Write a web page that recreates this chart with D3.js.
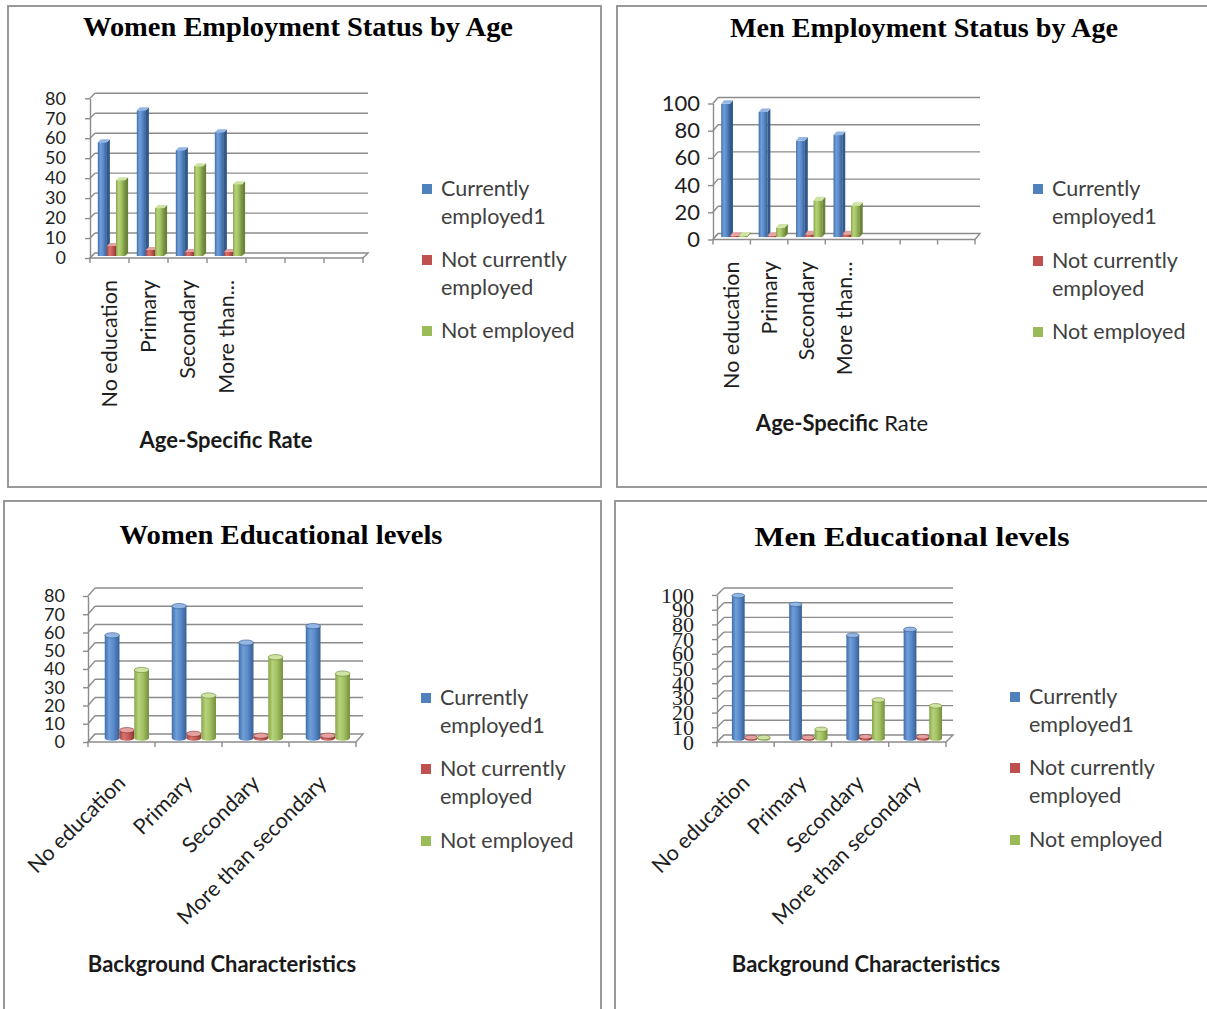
<!DOCTYPE html>
<html><head><meta charset="utf-8">
<script src="https://cdn.jsdelivr.net/npm/d3@7"></script>
<style>body{margin:0;background:#fff}svg{display:block}</style>
</head><body>
<svg id="c" width="1207" height="1009"></svg>
<script>
// ---------- DATA ----------
const ageCategoryLabels = ["No education", "Primary", "Secondary", "More than...", "", "", ""];
const educationCategories = ["No education", "Primary", "Secondary", "More than secondary"];
const seriesNames = ["Currently employed1", "Not currently employed", "Not employed"];
const legendLines = [["Currently", "employed1"], ["Not currently", "employed"], ["Not employed"]];

const womenCurrentlyEmployed = [57, 73, 53, 62];
const womenNotCurrentlyEmployed = [5, 3, 2, 2];
const womenNotEmployed = [38, 24, 45, 36];

const menCurrentlyEmployed = [98, 92, 71, 75];
const menNotCurrentlyEmployed = [1, 1, 2, 2];
const menNotEmployed = [1, 7, 27, 23];

const womenTicks = [0, 10, 20, 30, 40, 50, 60, 70, 80];
const menAgeTicks = [0, 20, 40, 60, 80, 100];
const menEduTicks = [0, 10, 20, 30, 40, 50, 60, 70, 80, 90, 100];

const chartTitles = ["Women Employment Status by Age", "Men Employment Status by Age",
                     "Women Educational levels", "Men Educational levels"];
const ageAxisTitle = "Age-Specific Rate";
const eduAxisTitle = "Background Characteristics";

// ---------- STYLE ----------
const colors = ["#4F81BD", "#C0504D", "#9BBB59"];
const gradStops = [
  ["#3f6ea8", "#6f9ed9", "#5b8acb", "#365f93"],
  ["#a8423f", "#d77471", "#c65b58", "#8f3734"],
  ["#88a74a", "#b6d27a", "#a3c163", "#748f3c"]
];
const topFace = ["#93b6e4", "#e4a19f", "#cfe3a2"];
const sideFace = ["#33598a", "#85322f", "#6a8437"];
const gridColor = "#8c8c8c";
const sansFont = "Lato, 'Open Sans', sans-serif";
const serifFont = "'Liberation Serif', 'Times New Roman', serif";

const svg = d3.select("#c");
const defs = svg.append("defs");
colors.forEach((c, i) => {
  const lg = defs.append("linearGradient").attr("id", "g" + i)
    .attr("x1", "0").attr("x2", "1").attr("y1", "0").attr("y2", "0");
  [0, 0.3, 0.6, 1].forEach((o, k) => lg.append("stop").attr("offset", o).attr("stop-color", gradStops[i][k]));
});

const charts = [
  { panel: [8, 6, 593, 481], title: chartTitles[0], titleX: 298, titleY: 36, titleW: 430,
    cats: ageCategoryLabels, series: [womenCurrentlyEmployed, womenNotCurrentlyEmployed, womenNotEmployed],
    ticks: womenTicks, max: 80, x0: 90, W: 273, y0: 258, yTop: 98.3, dx: 5, dy: 5,
    off: 0.2, gw: 0.7, style: "box", tickFont: sansFont, tickSize: 18, tickPad: 19,
    labelMode: "vertical", labelOff: 22, catSize: 21.5,
    axisTitle: [[ageAxisTitle, true]], axisTitleX: 226, axisTitleY: 448,
    legendX: 422, legendY: [189, 260, 331] },
  { panel: [617, 6, 600, 481], title: chartTitles[1], titleX: 924, titleY: 37, titleW: 388,
    cats: ageCategoryLabels, series: [menCurrentlyEmployed, menNotCurrentlyEmployed, menNotEmployed],
    ticks: menAgeTicks, max: 100, x0: 713, W: 262, y0: 239.5, yTop: 103.5, dx: 5, dy: 6,
    off: 0.22, gw: 0.7, style: "box", tickFont: sansFont, tickSize: 22, tickPad: 8,
    labelMode: "vertical", labelOff: 22, catSize: 21.5,
    axisTitle: [["Age-Specific", true], [" Rate", false]], axisTitleX: 842, axisTitleY: 431,
    legendX: 1033, legendY: [189, 261, 332] },
  { panel: [4, 501, 597, 520], title: chartTitles[2], titleX: 281, titleY: 544, titleW: 323,
    cats: educationCategories, series: [womenCurrentlyEmployed, womenNotCurrentlyEmployed, womenNotEmployed],
    ticks: womenTicks, max: 80, x0: 88, W: 268, y0: 742, yTop: 596, dx: 7, dy: 8,
    off: 0.25, gw: 0.66, style: "cyl", tickFont: sansFont, tickSize: 18, tickPad: 18,
    labelMode: "diag", labelX: 0, labelOff: 37, catSize: 21.5,
    axisTitle: [[eduAxisTitle, true]], axisTitleX: 222, axisTitleY: 972,
    legendX: 421, legendY: [698, 769, 841] },
  { panel: [615, 501, 600, 520], title: chartTitles[3], titleX: 912, titleY: 546, titleW: 315,
    cats: educationCategories, series: [menCurrentlyEmployed, menNotCurrentlyEmployed, menNotEmployed],
    ticks: menEduTicks, max: 100, x0: 717, W: 229, y0: 742, yTop: 595, dx: 7, dy: 7,
    off: 0.26, gw: 0.67, style: "cyl", tickFont: serifFont, tickSize: 22, tickPad: 18,
    labelMode: "diag", labelX: 0, labelOff: 37, catSize: 21.5,
    axisTitle: [[eduAxisTitle, true]], axisTitleX: 866, axisTitleY: 972,
    legendX: 1010, legendY: [697, 768, 840] }
];

function drawChart(cfg) {
  const g = svg.append("g");
  const [px, py, pw, ph] = cfg.panel;
  g.append("rect").attr("x", px).attr("y", py).attr("width", pw).attr("height", ph)
    .attr("fill", "#fff").attr("stroke", "#8e8e8e").attr("stroke-width", 1.8);

  g.append("text").attr("x", cfg.titleX).attr("y", cfg.titleY).attr("text-anchor", "middle")
    .attr("font-family", serifFont).attr("font-weight", "bold").attr("font-size", 28)
    .attr("textLength", cfg.titleW).attr("lengthAdjust", "spacingAndGlyphs")
    .attr("fill", "#000").text(cfg.title);

  const y = d3.scaleLinear().domain([0, cfg.max]).range([cfg.y0, cfg.yTop]);
  const x = d3.scaleBand().domain(d3.range(cfg.cats.length)).range([cfg.x0, cfg.x0 + cfg.W]);
  const bwSlot = x.bandwidth();
  const xs = d3.scaleBand().domain(d3.range(seriesNames.length))
    .range([bwSlot * cfg.off, bwSlot * (cfg.off + cfg.gw)]);
  const dx = cfg.dx, dy = cfg.dy, x0 = cfg.x0, W = cfg.W;

  // side wall diagonals + back wall gridlines
  const grid = g.append("g").attr("stroke", gridColor).attr("stroke-width", 1.4).attr("fill", "none");
  grid.selectAll("line.d").data(cfg.ticks).join("line").attr("class", "d")
    .attr("x1", x0).attr("y1", d => y(d)).attr("x2", x0 + dx).attr("y2", d => y(d) - dy);
  grid.selectAll("line.b").data(cfg.ticks.filter(d => d > 0)).join("line").attr("class", "b")
    .attr("x1", x0 + dx).attr("y1", d => y(d) - dy).attr("x2", x0 + W + dx).attr("y2", d => y(d) - dy);
  // floor
  const y0 = y(0);
  g.append("polygon")
    .attr("points", [[x0, y0], [x0 + W, y0], [x0 + W + dx, y0 - dy], [x0 + dx, y0 - dy]].map(p => p.join(",")).join(" "))
    .attr("fill", "#fff").attr("stroke", gridColor).attr("stroke-width", 1.4);
  // category boundary ticks
  const bounds = d3.range(cfg.cats.length).map(i => x(i)).concat([x0 + W]);
  g.append("g").selectAll("line").data(bounds).join("line")
    .attr("x1", d => d).attr("x2", d => d).attr("y1", y0).attr("y2", y0 + 5)
    .attr("stroke", gridColor).attr("stroke-width", 1.4);

  // y axis
  const ax = g.append("g").attr("transform", `translate(${x0},0)`)
    .call(d3.axisLeft(y).tickValues(cfg.ticks).tickSize(5).tickSizeOuter(0).tickPadding(cfg.tickPad));
  ax.select(".domain").attr("stroke", gridColor).attr("stroke-width", 1.4);
  ax.selectAll(".tick line").attr("stroke", gridColor).attr("stroke-width", 1.4);
  ax.selectAll(".tick text").attr("font-family", cfg.tickFont).attr("font-size", cfg.tickSize)
    .attr("fill", "#1e1e1e");

  // bars
  const bars = g.append("g");
  cfg.series.forEach((vals, s) => {
    vals.forEach((v, i) => {
      const xl = x(i) + xs(s), bw = xs.bandwidth();
      if (cfg.style === "box") {
        const bd = dy * 0.6, bdx = dx * 0.6;
        const ft = y(v) - dy + bd, fb = y0 - dy + bd;
        bars.append("rect").attr("x", xl).attr("y", ft).attr("width", bw).attr("height", Math.max(0, fb - ft))
          .attr("fill", `url(#g${s})`);
        bars.append("polygon").attr("points",
          [[xl + bw, ft], [xl + bw + bdx, ft - bd], [xl + bw + bdx, fb - bd], [xl + bw, fb]].map(p => p.join(",")).join(" "))
          .attr("fill", sideFace[s]);
        bars.append("polygon").attr("points",
          [[xl, ft], [xl + bw, ft], [xl + bw + bdx, ft - bd], [xl + bdx, ft - bd]].map(p => p.join(",")).join(" "))
          .attr("fill", topFace[s]);
      } else {
        const ry = Math.max(2, bw * 0.18);
        const yb = y0 - dy * 0.5;
        const yc = Math.min(y(v) - dy * 0.5 + ry * 0.5, yb - 1);
        bars.append("ellipse").attr("cx", xl + bw / 2).attr("cy", yb).attr("rx", bw / 2).attr("ry", ry)
          .attr("fill", `url(#g${s})`);
        bars.append("rect").attr("x", xl).attr("y", yc).attr("width", bw).attr("height", yb - yc)
          .attr("fill", `url(#g${s})`);
        bars.append("ellipse").attr("cx", xl + bw / 2).attr("cy", yc).attr("rx", bw / 2).attr("ry", ry)
          .attr("fill", topFace[s]).attr("stroke", sideFace[s]).attr("stroke-width", 0.6);
      }
    });
  });

  // x axis labels
  const xa = g.append("g").attr("transform", `translate(0,${y0})`)
    .call(d3.axisBottom(x).tickSize(0).tickFormat(i => cfg.cats[i]));
  xa.select(".domain").remove();
  const lt = xa.selectAll(".tick text").attr("font-family", sansFont).attr("font-size", cfg.catSize)
    .attr("fill", "#1e1e1e").attr("x", 0).attr("y", 0).attr("dy", "0.35em").attr("text-anchor", "end");
  if (cfg.labelMode === "vertical") lt.attr("transform", `translate(0,${cfg.labelOff}) rotate(-90)`);
  else lt.attr("transform", `translate(${cfg.labelX},${cfg.labelOff}) rotate(-45)`);

  // axis title
  const at = g.append("text").attr("x", cfg.axisTitleX).attr("y", cfg.axisTitleY).attr("text-anchor", "middle")
    .attr("font-family", sansFont).attr("font-size", 22).attr("fill", "#1a1a1a");
  cfg.axisTitle.forEach(([txt, b]) => at.append("tspan").attr("font-weight", b ? "bold" : "normal").text(txt));

  // legend
  const lg = g.append("g");
  legendLines.forEach((lines, k) => {
    lg.append("rect").attr("x", cfg.legendX).attr("y", cfg.legendY[k] - 5).attr("width", 10).attr("height", 10)
      .attr("fill", colors[k]);
    lines.forEach((ln, j) => {
      lg.append("text").attr("x", cfg.legendX + 19).attr("y", cfg.legendY[k] + 7 + j * 28)
        .attr("font-family", sansFont).attr("font-size", 21.5).attr("fill", "#404040").text(ln);
    });
  });
}

charts.forEach(drawChart);
</script>
</body></html>
